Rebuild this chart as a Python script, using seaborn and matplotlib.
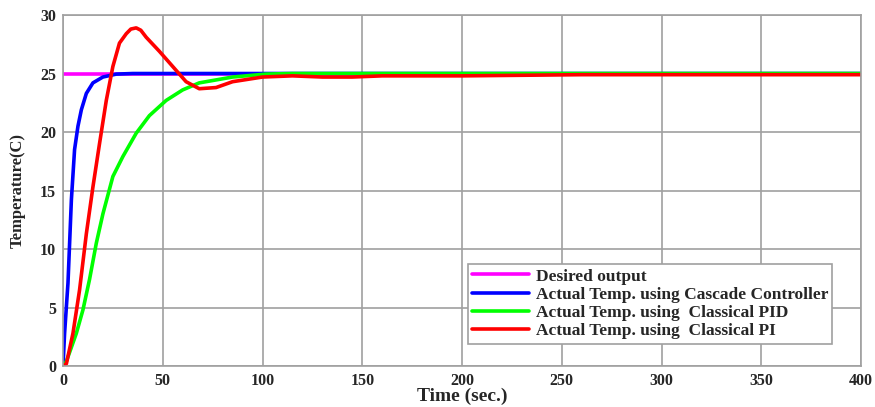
import seaborn as sns
import matplotlib.pyplot as plt
import pandas as pd

# datos
t_ref = [0, 400]
y_ref = [25, 25]

t_casc = [0, 0.8, 2.5, 4.2, 5.8, 7.5, 9.2, 11.7, 15, 20, 26.7, 35, 60, 120, 400]
y_casc = [0, 2.8, 7.1, 14.2, 18.5, 20.5, 21.9, 23.3, 24.2, 24.7, 24.95, 25, 25, 25, 25]

t_pid = [0, 1.7, 4, 6.7, 10, 13.3, 16.7, 20, 25, 30, 36.7, 43.3, 51.7, 60, 68.3, 85, 101.7, 115, 200, 400]
y_pid = [0, 0.4, 1.5, 2.8, 4.8, 7.4, 10.5, 13, 16.2, 17.9, 19.9, 21.4, 22.7, 23.6, 24.2, 24.7, 24.95, 25, 25, 25]

t_pi = [0, 1.7, 5, 8.3, 11.7, 15, 18.3, 21.7, 25, 28.3, 31.7, 34, 36.7, 39, 41.7, 48.3, 55, 61.7,
        68.3, 76.7, 85, 100, 115, 130, 145, 160, 200, 260, 400]
y_pi = [0, 0.2, 2.8, 6.5, 11.3, 15.3, 19, 22.7, 25.6, 27.6, 28.4, 28.8, 28.9, 28.7, 28.1, 26.9, 25.6, 24.3,
        23.7, 23.8, 24.3, 24.7, 24.8, 24.7, 24.7, 24.8, 24.8, 24.9, 24.9]

series = [
    ("Desired output", t_ref, y_ref, "#ff00ff"),
    ("Actual Temp. using Cascade Controller", t_casc, y_casc, "#0000ff"),
    ("Actual Temp. using  Classical PID", t_pid, y_pid, "#00ff00"),
    ("Actual Temp. using  Classical PI", t_pi, y_pi, "#ff0000"),
]

sns.set_style("white")
plt.rcParams["font.family"] = ["Liberation Serif", "DejaVu Serif"]
plt.rcParams["font.weight"] = "bold"

fig = plt.figure(figsize=(8.75, 4.07), dpi=100)
ax = fig.add_axes([0.072, 0.1007, 0.912, 0.8624])

for nombre, t, y, color in series:
    df = pd.DataFrame({"t": t, "y": y})
    sns.lineplot(data=df, x="t", y="y", ax=ax, color=color, linewidth=2.6, label=nombre)

ax.set_xlim(0, 400)
ax.set_ylim(0, 30)
ax.set_xticks(range(0, 401, 50))
ax.set_yticks(range(0, 31, 5))
ax.grid(True, color="#a0a0a0", linewidth=1.2)
for s in ax.spines.values():
    s.set_color("#a0a0a0")
    s.set_linewidth(1.2)
ax.tick_params(labelsize=11.5, length=0, pad=5)
for lab in ax.get_xticklabels() + ax.get_yticklabels():
    lab.set_fontweight("bold")
ax.set_xlabel("Time (sec.)", fontsize=14, fontweight="bold")
ax.xaxis.set_label_coords(0.5, -0.063)
ax.set_ylabel("Temperature(C)", fontsize=12, fontweight="bold")
ax.yaxis.set_label_coords(-0.047, 0.5)

leg = ax.legend(loc="lower right", bbox_to_anchor=(0.964, 0.064), fancybox=False,
                framealpha=1, edgecolor="#a0a0a0", fontsize=12.5, handlelength=3.3,
                borderpad=0.25, labelspacing=0.12, handletextpad=0.35, borderaxespad=0)
leg.get_frame().set_linewidth(1.2)
for txt in leg.get_texts():
    txt.set_fontweight("bold")

fig.savefig("out.png", dpi=100)
